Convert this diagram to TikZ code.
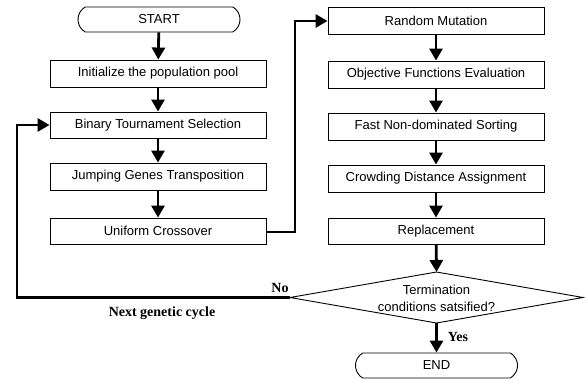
\documentclass[tikz,border=0pt]{standalone}
\usepackage{fontspec}
\setmainfont{Liberation Sans}
\newfontfamily\lblfont{Liberation Serif}
\usetikzlibrary{arrows.meta,shapes.misc}
\begin{document}
\begin{tikzpicture}[x=1pt,y=-1pt,
  box/.style={draw,line width=0.9pt,minimum width=216pt,minimum height=27pt,inner sep=0pt,font=\fontsize{13}{15}\selectfont},
  term/.style={draw,line width=0.9pt,rounded rectangle,rounded rectangle arc length=120,minimum width=162pt,minimum height=25pt,inner sep=0pt,font=\fontsize{13}{15}\selectfont},
  conn/.style={line width=2.8pt,-{Triangle[length=12pt,width=13pt]}},
  plain/.style={line width=2.8pt},
  lbl/.style={font=\lblfont\bfseries\fontsize{14}{16}\selectfont,inner sep=0pt}]
\useasboundingbox (0,0) rectangle (585,379);
% left column
\node[term] (start) at (159,19.5) {START};
\node[box] (init) at (158,73.5) {Initialize the population pool};
\node[box,minimum height=26pt] (bin) at (158,125) {Binary Tournament Selection};
\node[box] (jump) at (158,176.5) {Jumping Genes Transposition};
\node[box,minimum height=26pt] (unif) at (158,231) {Uniform Crossover};
% right column
\node[box] (rand) at (436,20.5) {Random Mutation};
\node[box] (obj) at (436,74.5) {Objective Functions Evaluation};
\node[box] (fast) at (436,126.5) {Fast Non-dominated Sorting};
\node[box] (crowd) at (436,178.5) {Crowding Distance Assignment};
\node[box,minimum height=26pt] (repl) at (436,231) {Replacement};
% decision
\coordinate (dT) at (436.5,272);
\coordinate (dB) at (436.5,323);
\coordinate (dL) at (290,297.5);
\coordinate (dR) at (583,297.5);
\draw[line width=0.9pt] (dT) -- (dR) -- (dB) -- (dL) -- cycle;
\node[align=center,font=\fontsize{13}{17}\selectfont,inner sep=0pt] (cond) at (436.5,298.5) {Termination\\conditions satsified?};
\node[term] (end) at (436.5,365.5) {END};
% connectors
\draw[conn] (start) -- (init);
\draw[conn] (init) -- (bin);
\draw[conn] (bin) -- (jump);
\draw[conn] (jump) -- (unif);
\coordinate (u1) at (295,232);
\coordinate (u2) at (295,21);
\draw[line width=2.8pt,line join=miter] (unif.east |- u1) -- (u1) -- (u2);
\draw[conn] ([xshift=-1.4pt]u2) -- (rand.west |- u2);
\draw[conn] (rand) -- (obj);
\draw[conn] (obj) -- (fast);
\draw[conn] (fast) -- (crowd);
\draw[conn] (crowd) -- (repl);
\draw[conn] (repl) -- (dT);
\draw[conn] (dB) -- (end);
\coordinate (l1) at (17,297.5);
\coordinate (l2) at (17,125);
\draw[line width=2.8pt,line join=miter] (dL) -- (l1) -- (l2);
\draw[conn] ([xshift=-1.4pt]l2) -- (bin.west);
% labels
\node[lbl] (no) at (280,288) {No};
\node[lbl] (next) at (162,313) {Next genetic cycle};
\node[lbl] (yes) at (458,337) {Yes};
\end{tikzpicture}
\end{document}
